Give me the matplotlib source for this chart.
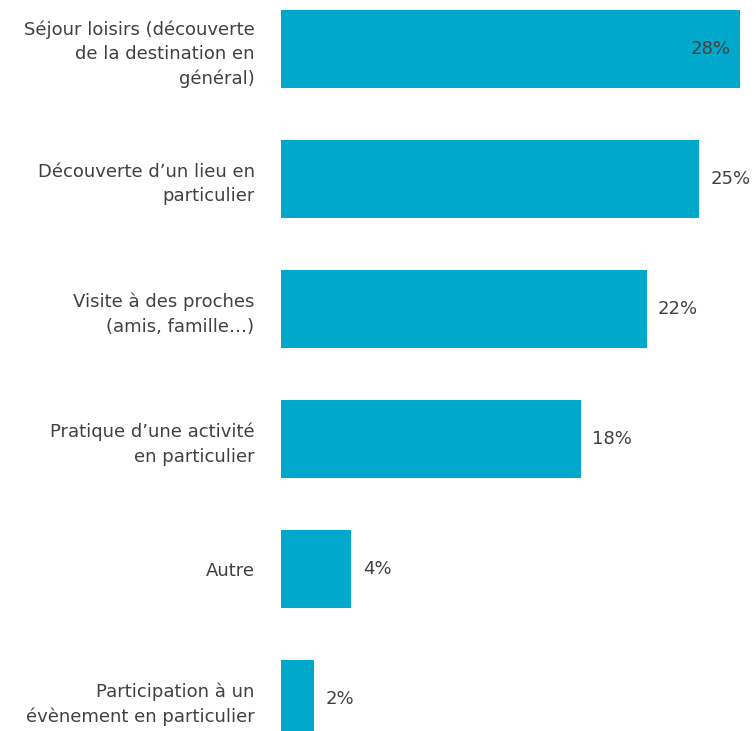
import matplotlib.pyplot as plt

categories = [
    "Séjour loisirs (découverte\nde la destination en\ngénéral)",
    "Découverte d’un lieu en\nparticulier",
    "Visite à des proches\n(amis, famille…)",
    "Pratique d’une activité\nen particulier",
    "Autre",
    "Participation à un\névènement en particulier",
]
values = [28.0, 25.5, 22.3, 18.3, 4.3, 2.0]
value_labels = ["28%", "25%", "22%", "18%", "4%", "2%"]

bar_color = "#00A9CB"
text_color = "#404040"

fig = plt.figure(figsize=(7.56, 7.31), dpi=100)
ax = fig.add_axes([281 / 756, 0, 475 / 756, 1])

pos = list(range(len(categories)))
ax.barh(pos, values, height=0.6, color=bar_color)

ax.set_xlim(0, 28 * 475 / 459)
ax.set_ylim(5.246, -0.377)

ax.set_yticks(pos)
ax.set_yticklabels(categories, fontsize=13, color=text_color, linespacing=1.45)
ax.tick_params(axis="y", length=0, pad=19)
ax.set_xticks([])
for s in ax.spines.values():
    s.set_visible(False)

for i, (v, lab) in enumerate(zip(values, value_labels)):
    if i == 0:
        ax.text(v - 0.6, i, lab, ha="right", va="center", fontsize=13, color=text_color)
    else:
        ax.text(v + 0.7, i, lab, ha="left", va="center", fontsize=13, color=text_color)

fig.savefig("out.png", dpi=100)
